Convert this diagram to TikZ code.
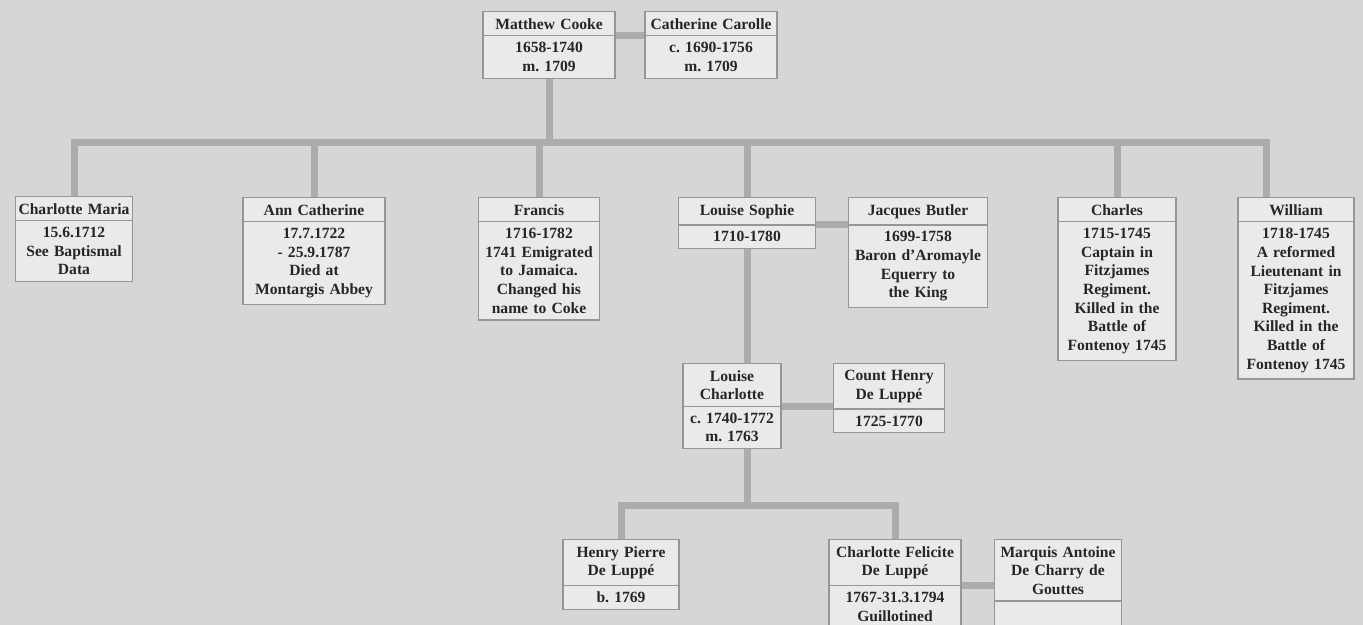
\documentclass[tikz,border=0pt]{standalone}
\usepackage{fontspec}
\setmainfont{Liberation Serif}
\usepackage{tikz}
\usetikzlibrary{shapes.multipart, calc}

\definecolor{pagebg}{RGB}{214,214,214}
\definecolor{boxbg}{RGB}{234,234,234}
\definecolor{boxline}{RGB}{150,150,150}
\definecolor{linkgray}{RGB}{172,172,172}
\definecolor{inkgray}{RGB}{38,38,38}

\tikzset{
  person/.style={rectangle split, rectangle split parts=2, draw=boxline,
    fill=boxbg, line width=0.6pt, inner xsep=1pt, inner ysep=3pt,
    align=center, anchor=north, text=inkgray,
    font=\fontsize{7.8}{9.3}\selectfont\bfseries},
  link/.style={draw=linkgray, line width=3.5pt}
}

\begin{document}
\frenchspacing
\begin{tikzpicture}[x=0.5pt, y=-0.5pt]
  \fill[pagebg] (0,0) rectangle (1363,625);
  \clip (0,0) rectangle (1363,625);
  \coordinate (T1) at (0,143);
  \coordinate (T2) at (0,505);

  \node[person, text width=64pt] (MC) at (549,11) {Matthew Cooke \nodepart{two} 1658-1740\\ m. 1709};
  \node[person, text width=64pt] (CC) at (711,11) {Catherine Carolle \nodepart{two} c. 1690-1756\\ m. 1709};

  \node[person, text width=56.4pt] (CM) at (74,196) {Charlotte Maria \nodepart{two} 15.6.1712\\ See Baptismal\\ Data};
  \node[person, text width=69pt] (AC) at (314,197) {Ann Catherine \nodepart{two} 17.7.1722\\ - 25.9.1787\\ Died at\\ Montargis Abbey};
  \node[person, text width=58.4pt] (F) at (539,197) {Francis \nodepart{two} 1716-1782\\ 1741 Emigrated\\ to Jamaica.\\ Changed his\\ name to Coke};
  \node[person, text width=66.4pt] (LS) at (747,197) {Louise Sophie \nodepart{two} 1710-1780};
  \node[person, text width=67.4pt] (JB) at (918,197) {Jacques Butler \nodepart{two} 1699-1758\\ Baron d’Aromayle\\ Equerry to\\ the King};
  \node[person, text width=57pt] (C) at (1117,197) {Charles \nodepart{two} 1715-1745\\ Captain in\\ Fitzjames\\ Regiment.\\ Killed in the\\ Battle of\\ Fontenoy 1745};
  \node[person, text width=56pt] (W) at (1296,197) {William \nodepart{two} 1718-1745\\ A reformed\\ Lieutenant in\\ Fitzjames\\ Regiment.\\ Killed in the\\ Battle of\\ Fontenoy 1745};

  \node[person, text width=47pt] (LC) at (732,363) {Louise\\ Charlotte \nodepart{two} c. 1740-1772\\ m. 1763};
  \node[person, text width=53.4pt] (HD) at (889,363) {Count Henry\\ De Luppé \nodepart{two} 1725-1770};

  \node[person, text width=56pt] (HP) at (621,539) {Henry Pierre\\ De Luppé \nodepart{two} b. 1769};
  \node[person, text width=64pt] (CF) at (895,539) {Charlotte Felicite\\ De Luppé \nodepart{two} 1767-31.3.1794\\ Guillotined};
  \node[person, text width=61.4pt] (MA) at (1058,539) {Marquis Antoine\\ De Charry de\\ Gouttes \nodepart{two} \rule{0pt}{16pt}};

  % couples
  \draw[link] (MC.text split east) -- (CC.text split west);
  \draw[link] (LS.text split east) -- (JB.text split west);
  \draw[link] (LC.text split east) -- (LC.text split east -| HD.west);
  \draw[link] (CF.text split east) -- (CF.text split east -| MA.west);

  % children
  \draw[link] (MC.south) -- (MC.south |- T1);
  \draw[link] (CM.north) |- ([xshift=-15pt]W.north |- T1) -- ([xshift=-15pt]W.north);
  \foreach \n in {AC,F,LS,C}
    \draw[link] (\n.north) -- (\n.north |- T1);
  \draw[link] (LS.south) -- (LS.south |- LC.north);
  \draw[link] (LS.south |- LC.south) -- (LS.south |- T2);
  \draw[link] (HP.north) |- (CF.north |- T2) -- (CF.north);
\end{tikzpicture}
\end{document}
